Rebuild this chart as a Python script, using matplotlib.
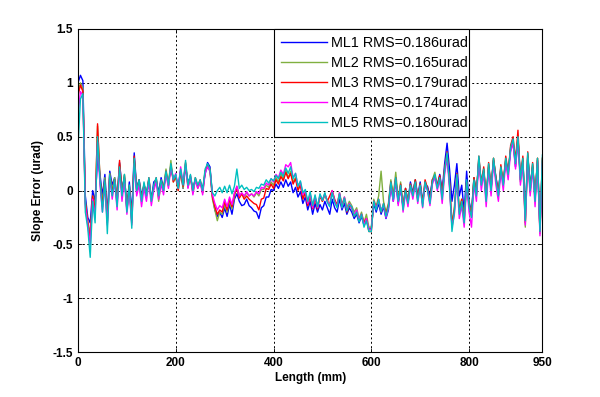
import numpy as np
import matplotlib.pyplot as plt

length_mm = np.arange(0, 951, 5)

ml1 = [1.00, 1.07, 1.02, -0.05, -0.25, -0.30, 0.00, -0.10, 0.30, 0.15,
       -0.05, 0.15, -0.22, 0.18, 0.05, 0.12, -0.08, 0.26, 0.02, 0.12,
       -0.15, 0.08, -0.22, 0.35, 0.02, 0.10, -0.05, 0.05, -0.02, 0.10,
       -0.08, 0.08, 0.10, -0.02, 0.12, 0.02, 0.15, 0.08, 0.20, 0.12,
       0.12, 0.05, 0.18, 0.02, 0.22, 0.08, 0.12, 0.02, 0.10, 0.04,
       0.08, 0.02, 0.15, 0.26, 0.22, -0.05, -0.18, -0.24, -0.20, -0.25,
       -0.16, -0.24, -0.13, -0.22, -0.08, -0.03, -0.10, -0.14, -0.13, -0.08,
       -0.14, -0.16, -0.19, -0.20, -0.26, -0.16, -0.14, -0.06, -0.06, 0.01,
       0.00, 0.06, 0.02, 0.08, 0.03, 0.10, 0.04, 0.08, -0.02, 0.03,
       -0.06, -0.01, -0.12, -0.06, -0.18, -0.10, -0.22, -0.12, -0.20, -0.13,
       -0.18, -0.10, -0.16, -0.22, -0.08, -0.16, -0.20, -0.08, -0.18, -0.12,
       -0.22, -0.16, -0.20, -0.26, -0.22, -0.30, -0.24, -0.32, -0.26, -0.36,
       -0.35, -0.12, -0.20, -0.12, -0.22, -0.15, -0.26, -0.18, 0.05, -0.10,
       0.10, -0.12, 0.02, -0.15, 0.02, -0.10, 0.08, -0.02, 0.10, -0.05,
       0.08, -0.10, 0.05, 0.04, -0.05, 0.10, 0.12, 0.05, 0.15, 0.00,
       0.25, 0.44, 0.20, -0.10, 0.05, 0.25, -0.05, 0.05, -0.20, 0.18,
       -0.10, -0.20, 0.12, -0.02, 0.28, 0.08, 0.18, -0.05, 0.22, 0.02,
       0.28, 0.12, 0.00, 0.20, 0.08, 0.28, 0.18, 0.38, 0.45, 0.22,
       0.48, 0.12, 0.28, -0.20, 0.32, 0.05, 0.22, -0.05, 0.28, -0.35,
       0.28]

ml2 = [0.92, 1.00, 0.95, -0.10, -0.28, -0.40, -0.05, -0.15, 0.60, 0.12,
       -0.12, 0.12, -0.28, 0.16, 0.00, 0.12, -0.10, 0.25, -0.02, 0.15,
       -0.18, 0.05, -0.28, 0.30, 0.00, 0.08, -0.08, 0.06, -0.04, 0.10,
       -0.08, 0.02, 0.10, -0.10, 0.08, 0.02, 0.20, 0.05, 0.28, 0.08,
       0.12, 0.00, 0.18, 0.02, 0.25, 0.03, 0.12, -0.02, 0.10, 0.02,
       0.08, -0.02, 0.18, 0.22, 0.18, -0.08, -0.18, -0.28, -0.20, -0.22,
       -0.13, -0.20, -0.10, -0.17, -0.06, 0.04, -0.04, -0.03, -0.06, -0.02,
       -0.05, -0.03, -0.06, -0.02, -0.05, 0.01, 0.01, 0.05, 0.03, 0.08,
       0.05, 0.12, 0.08, 0.16, 0.10, 0.19, 0.12, 0.18, 0.08, 0.12,
       0.02, 0.06, -0.06, -0.02, -0.12, -0.04, -0.15, -0.06, -0.16, -0.05,
       -0.10, -0.04, -0.09, -0.13, -0.01, -0.09, -0.13, -0.02, -0.13, -0.06,
       -0.16, -0.10, -0.14, -0.20, -0.16, -0.26, -0.20, -0.30, -0.22, -0.34,
       -0.34, -0.08, -0.15, -0.05, 0.18, -0.10, -0.20, -0.12, 0.10, -0.05,
       0.17, -0.08, 0.08, -0.15, 0.02, -0.10, 0.06, -0.04, 0.10, -0.08,
       0.06, -0.12, 0.08, 0.02, -0.10, 0.10, 0.17, 0.04, 0.12, -0.05,
       0.20, 0.32, 0.08, -0.30, -0.15, 0.15, -0.18, -0.08, -0.25, 0.08,
       -0.12, -0.22, 0.12, -0.03, 0.30, 0.06, 0.20, -0.08, 0.24, 0.00,
       0.30, 0.10, -0.04, 0.22, 0.06, 0.28, 0.15, 0.40, 0.46, 0.24,
       0.50, 0.08, 0.30, -0.34, 0.34, -0.02, 0.24, -0.08, 0.30, -0.40,
       0.30]

ml3 = [0.88, 0.98, 0.92, -0.12, -0.30, -0.45, -0.05, -0.20, 0.62, 0.10,
       -0.15, 0.10, -0.30, 0.15, -0.02, 0.10, -0.12, 0.28, -0.03, 0.14,
       -0.18, 0.04, -0.30, 0.32, 0.00, 0.10, -0.08, 0.06, -0.05, 0.12,
       -0.10, 0.04, 0.12, -0.06, 0.10, 0.00, 0.18, 0.04, 0.24, 0.08,
       0.14, 0.00, 0.18, 0.04, 0.26, 0.04, 0.14, -0.02, 0.12, 0.04,
       0.10, -0.02, 0.18, 0.24, 0.20, -0.06, -0.15, -0.22, -0.18, -0.20,
       -0.10, -0.18, -0.08, -0.15, -0.03, 0.02, -0.07, -0.03, -0.08, -0.05,
       -0.08, -0.10, -0.12, -0.13, -0.18, -0.08, -0.07, 0.02, 0.01, 0.06,
       0.02, 0.10, 0.06, 0.13, 0.09, 0.17, 0.11, 0.16, 0.06, 0.11,
       0.00, 0.05, -0.08, -0.02, -0.14, -0.05, -0.17, -0.07, -0.17, -0.05,
       -0.10, -0.03, -0.10, -0.05, 0.00, -0.08, -0.14, -0.03, -0.15, -0.07,
       -0.20, -0.14, -0.16, -0.24, -0.20, -0.28, -0.22, -0.30, -0.26, -0.38,
       -0.38, -0.10, -0.16, -0.08, -0.20, -0.12, -0.22, -0.14, 0.08, -0.06,
       0.12, -0.10, 0.06, -0.16, 0.02, -0.12, 0.06, -0.04, 0.10, -0.08,
       0.06, -0.12, 0.10, 0.02, -0.10, 0.10, 0.14, 0.04, 0.14, -0.04,
       0.20, 0.36, 0.06, -0.32, -0.18, 0.16, -0.20, -0.08, -0.28, 0.08,
       -0.14, -0.24, 0.12, -0.04, 0.32, 0.06, 0.22, -0.08, 0.26, 0.02,
       0.30, 0.12, -0.04, 0.24, 0.06, 0.32, 0.16, 0.42, 0.50, 0.28,
       0.56, 0.10, 0.32, -0.30, 0.36, 0.00, 0.26, -0.08, 0.30, -0.38,
       0.30]

ml4 = [0.70, 0.92, 0.88, -0.15, -0.32, -0.50, -0.08, -0.25, 0.45, 0.05,
       -0.20, 0.05, -0.32, 0.12, -0.08, 0.08, -0.18, 0.20, -0.10, 0.10,
       -0.22, 0.00, -0.32, 0.25, -0.05, 0.05, -0.15, 0.02, -0.10, 0.08,
       -0.14, 0.00, 0.08, -0.08, 0.06, -0.04, 0.16, 0.02, 0.22, 0.10,
       0.16, 0.02, 0.22, 0.06, 0.24, 0.02, 0.14, -0.04, 0.10, 0.02,
       0.08, -0.04, 0.16, 0.22, 0.18, -0.04, -0.12, -0.18, -0.14, -0.16,
       -0.08, -0.15, -0.06, -0.13, -0.02, 0.04, -0.05, -0.02, -0.05, -0.01,
       -0.05, -0.03, -0.05, -0.01, -0.03, 0.03, 0.02, 0.07, 0.05, 0.11,
       0.08, 0.15, 0.12, 0.19, 0.15, 0.24, 0.22, 0.26, 0.12, 0.16,
       0.04, 0.08, -0.04, 0.00, -0.12, -0.03, -0.16, -0.05, -0.16, -0.04,
       -0.09, -0.03, -0.10, -0.14, 0.00, -0.10, -0.15, -0.02, -0.16, -0.06,
       -0.18, -0.12, -0.16, -0.22, -0.18, -0.27, -0.22, -0.32, -0.26, -0.36,
       -0.36, -0.10, -0.16, -0.10, -0.18, -0.14, -0.25, -0.16, 0.06, -0.10,
       0.10, -0.14, 0.04, -0.20, -0.02, -0.15, 0.04, -0.08, 0.06, -0.12,
       0.04, -0.16, 0.06, 0.00, -0.14, 0.06, 0.12, 0.00, 0.10, -0.12,
       0.15, 0.30, 0.02, -0.34, -0.22, 0.12, -0.26, -0.14, -0.34, 0.06,
       -0.20, -0.34, 0.06, -0.10, 0.28, 0.00, 0.16, -0.15, 0.20, -0.05,
       0.26, 0.05, -0.10, 0.18, 0.00, 0.26, 0.10, 0.36, 0.44, 0.20,
       0.48, 0.05, 0.26, -0.32, 0.30, -0.05, 0.20, -0.15, 0.26, -0.42,
       0.25]

ml5 = [0.40, 0.85, 0.90, -0.20, -0.35, -0.62, -0.10, -0.30, 0.50, 0.10,
       -0.20, 0.10, -0.40, 0.15, -0.05, 0.10, -0.15, 0.22, -0.05, 0.15,
       -0.20, 0.05, -0.35, 0.30, 0.00, 0.10, -0.10, 0.08, -0.05, 0.12,
       -0.10, 0.05, 0.12, -0.05, 0.10, 0.00, 0.18, 0.05, 0.25, 0.10,
       0.15, 0.02, 0.20, 0.05, 0.28, 0.05, 0.15, 0.00, 0.12, 0.05,
       0.10, 0.00, 0.20, 0.25, 0.20, -0.02, -0.05, 0.00, 0.03, -0.02,
       0.04, -0.02, 0.05, -0.03, 0.04, 0.20, 0.02, 0.05, 0.01, 0.03,
       0.00, 0.01, -0.01, 0.03, 0.02, 0.06, 0.05, 0.10, 0.07, 0.11,
       0.09, 0.14, 0.11, 0.17, 0.13, 0.21, 0.16, 0.22, 0.11, 0.16,
       0.04, 0.09, -0.02, 0.01, -0.10, -0.01, -0.14, -0.04, -0.15, -0.03,
       -0.09, -0.02, -0.11, -0.15, -0.02, -0.11, -0.16, -0.03, -0.16, -0.07,
       -0.19, -0.13, -0.15, -0.24, -0.20, -0.29, -0.22, -0.34, -0.28, -0.38,
       -0.38, -0.10, -0.18, -0.08, -0.20, -0.12, -0.24, -0.15, 0.08, -0.08,
       0.12, -0.10, 0.05, -0.18, 0.00, -0.12, 0.05, -0.05, 0.08, -0.10,
       0.05, -0.15, 0.08, 0.00, -0.12, 0.08, 0.15, 0.02, 0.12, -0.08,
       0.18, 0.35, 0.05, -0.38, -0.20, 0.15, -0.22, -0.10, -0.30, 0.10,
       -0.15, -0.25, 0.10, -0.05, 0.32, 0.05, 0.20, -0.10, 0.25, 0.00,
       0.30, 0.10, -0.05, 0.22, 0.05, 0.30, 0.15, 0.40, 0.48, 0.25,
       0.50, 0.10, 0.30, -0.28, 0.35, 0.00, 0.25, -0.10, 0.30, -0.38,
       0.33]

labels = ['ML1 RMS=0.186urad', 'ML2 RMS=0.165urad', 'ML3 RMS=0.179urad',
          'ML4 RMS=0.174urad', 'ML5 RMS=0.180urad']
colors = ['#0000ff', '#80b040', '#ff0000', '#ff00ff', '#00c0c0']

xticks = [0, 200, 400, 600, 800, 950]
yticks = [-1.5, -1, -0.5, 0, 0.5, 1, 1.5]
yticklabels = ['-1.5', '-1', '-0.5', '0', '0.5', '1', '1.5']

plt.rcParams['font.family'] = ['Liberation Sans', 'DejaVu Sans']

fig = plt.figure(figsize=(6, 3.97), dpi=100)
ax = fig.add_axes([0.13, 0.113, 0.774, 0.814])

for ys, lab, c in zip([ml1, ml2, ml3, ml4, ml5], labels, colors):
    ax.plot(length_mm, ys, color=c, lw=1.0, label=lab)

ax.set_xlim(0, 950)
ax.set_ylim(-1.5, 1.5)
ax.set_xticks(xticks)
ax.set_xticklabels([str(t) for t in xticks], fontweight='bold', fontsize=8.5)
ax.set_yticks(yticks)
ax.set_yticklabels(yticklabels, fontweight='bold', fontsize=8.5)
ax.tick_params(direction='in', length=3, top=True, right=True, width=0.6)
ax.grid(True, color='black', linestyle=(0, (2, 2.5)), linewidth=0.7)

for s in ax.spines.values():
    s.set_linewidth(0.8)

ax.set_xlabel('Length (mm)', fontweight='bold', fontsize=8.5, labelpad=2)
ax.set_ylabel('Slope Error (urad)', fontweight='bold', fontsize=8.5, labelpad=6)

# legend box covers 400..800 mm and 0.5..1.5 urad
leg = ax.legend(loc='upper left', bbox_to_anchor=(400 / 950, 2 / 3, 400 / 950, 1 / 3),
                mode='expand', borderaxespad=0, fontsize=10.4, fancybox=False,
                framealpha=1, edgecolor='black', handlelength=3.2,
                handletextpad=0.25, labelspacing=0.41, borderpad=0.5)
leg.get_frame().set_linewidth(0.8)

fig.savefig('out.png', dpi=100)
